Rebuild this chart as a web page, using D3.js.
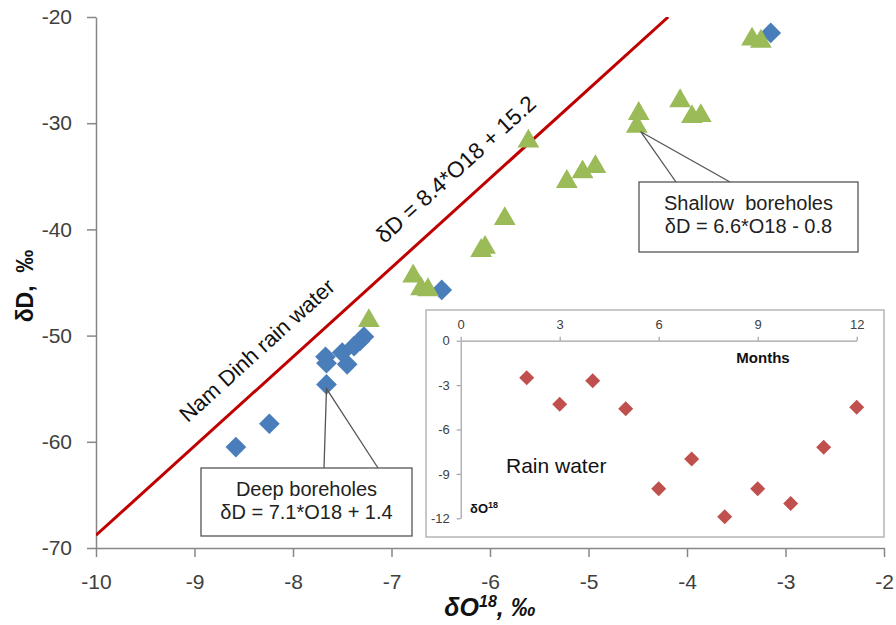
<!DOCTYPE html>
<html>
<head>
<meta charset="utf-8">
<script src="https://cdn.jsdelivr.net/npm/d3@7"></script>
<style>
  body { margin: 0; background: #fff; }
  svg { font-family: Arial, "Liberation Sans", sans-serif; }
</style>
</head>
<body>
<svg id="chart" width="896" height="625"></svg>
<script>
// deep boreholes (blue diamonds)
const deepO = [-8.58, -8.24, -7.66, -7.67, -7.66, -7.50, -7.45, -7.38, -7.32, -7.28, -6.49, -3.15];
const deepD = [-60.5, -58.3, -54.6, -52.0, -52.6, -51.6, -52.7, -51.0, -50.5, -50.1, -45.7, -21.5];

// shallow boreholes (green triangles)
const shallowO = [-7.23, -6.78, -6.70, -6.63, -6.05, -6.09, -5.85, -5.22, -5.06, -4.93, -5.61, -4.49, -4.51, -4.07, -3.95, -3.86, -3.34, -3.25];
const shallowD = [-48.6, -44.4, -45.6, -45.7, -41.7, -42.0, -39.0, -35.5, -34.6, -34.1, -31.7, -29.1, -30.3, -27.9, -29.4, -29.3, -22.1, -22.3];

// inset: monthly rain water dO18
const months = [2, 3, 4, 5, 6, 7, 8, 9, 10, 11, 12];
const rainO = [-2.5, -4.3, -2.7, -4.6, -10.0, -8.0, -11.9, -10.0, -11.0, -7.2, -4.5];

const xTicks = [-10, -9, -8, -7, -6, -5, -4, -3, -2];
const yTicks = [-70, -60, -50, -40, -30, -20];
const monthTicks = [0, 3, 6, 9, 12];
const insetYTicks = [0, -3, -6, -9, -12];

// Nam Dinh meteoric line: dD = 8.4*O18 + 15.2
const lineSlope = 8.4, lineIcept = 15.2;

const svg = d3.select("#chart");
const axisCol = "#878787", textCol = "#404040";
const plain = d => String(d);   // hyphen minus like the original

const x = d3.scaleLinear().domain([-10, -2]).range([96, 884]);
const y = d3.scaleLinear().domain([-70, -20]).range([548, 17]);

svg.append("clipPath").attr("id", "plot")
  .append("rect").attr("x", 96).attr("y", 17).attr("width", 788).attr("height", 531);

// axes
const yAxis = svg.append("g").attr("transform", "translate(96,0)")
  .call(d3.axisLeft(y).tickValues(yTicks).tickFormat(plain).tickSize(9).tickPadding(15).tickSizeOuter(0));
const xAxis = svg.append("g").attr("transform", "translate(0,548)")
  .call(d3.axisBottom(x).tickValues(xTicks).tickFormat(plain).tickSize(9).tickPadding(17).tickSizeOuter(0));
[xAxis, yAxis].forEach(g => {
  g.selectAll("path, line").attr("stroke", axisCol).attr("stroke-width", 1.5);
  g.selectAll("text").attr("font-size", 21).attr("fill", textCol)
    .attr("font-family", "Arial, 'Liberation Sans', sans-serif");
});

// rain water line
const lx0 = -10, lx1 = (-20 - lineIcept) / lineSlope;
svg.append("line")
  .attr("clip-path", "url(#plot)")
  .attr("x1", x(lx0)).attr("y1", y(lineSlope * lx0 + lineIcept))
  .attr("x2", x(lx1)).attr("y2", y(lineSlope * lx1 + lineIcept))
  .attr("stroke", "#c00000").attr("stroke-width", 3);

const ang = Math.atan2(y(-20) - y(-30), x(lx1) - x((-30 - lineIcept) / lineSlope)) * 180 / Math.PI;
svg.append("text").attr("transform", `translate(461,175) rotate(${ang})`)
  .attr("text-anchor", "middle").attr("font-size", 22.5).attr("fill", "#111")
  .text("δD = 8.4*O18 + 15.2");
svg.append("text").attr("transform", `translate(262,356) rotate(${ang})`)
  .attr("text-anchor", "middle").attr("font-size", 22).attr("fill", "#111")
  .text("Nam Dinh rain water");

// points
const diamond = d3.symbol().type(d3.symbolSquare).size(215)();
const tri = d3.symbol().type(d3.symbolTriangle).size(205)();

svg.append("g").selectAll("path")
  .data(deepO.map((o, i) => [o, deepD[i]]))
  .join("path")
  .attr("d", diamond)
  .attr("transform", d => `translate(${x(d[0])},${y(d[1])}) rotate(45)`)
  .attr("fill", "#4a7ebb");

svg.append("g").selectAll("path")
  .data(shallowO.map((o, i) => [o, shallowD[i]]))
  .join("path")
  .attr("d", tri)
  .attr("transform", d => `translate(${x(d[0])},${y(d[1])})`)
  .attr("fill", "#9bbb59");

// callout boxes
function callout(bx, by, bw, bh, tip, a, b, lines) {
  const g = svg.append("g");
  g.append("path")
    .attr("d", `M${a},${by} L${x(tip[0])},${y(tip[1])} L${b},${by}`)
    .attr("fill", "none").attr("stroke", "#555").attr("stroke-width", 1.3);
  g.append("rect").attr("x", bx).attr("y", by).attr("width", bw).attr("height", bh)
    .attr("fill", "#fff").attr("stroke", "#555").attr("stroke-width", 1.3);
  lines.forEach((t, i) => {
    g.append("text").attr("x", bx + bw / 2).attr("y", by + 28 + i * 23)
      .attr("text-anchor", "middle").attr("font-size", 20).attr("fill", "#222")
      .attr("xml:space", "preserve").text(t);
  });
}
callout(639, 182, 219, 70, [-4.47, -30.8], 676, 730, ["Shallow  boreholes", "δD = 6.6*O18 - 0.8"]);
callout(201, 468, 211, 68, [-7.66, -55.0], 324, 378, ["Deep boreholes", "δD = 7.1*O18 + 1.4"]);

// axis titles
svg.append("text").attr("transform", "translate(33,286) rotate(-90)")
  .attr("text-anchor", "middle").attr("font-size", 23).attr("font-weight", "bold")
  .attr("fill", "#111").attr("xml:space", "preserve").text("δD,  ‰");

const xt = svg.append("text").attr("x", 490).attr("y", 616)
  .attr("text-anchor", "middle").attr("font-size", 25).attr("font-weight", "bold")
  .attr("font-style", "italic").attr("fill", "#111");
xt.append("tspan").text("δO");
xt.append("tspan").attr("font-size", 16).attr("dy", -9).text("18");
xt.append("tspan").attr("dy", 9).text(", ‰");

// inset
svg.append("rect").attr("x", 426).attr("y", 310).attr("width", 458).attr("height", 227)
  .attr("fill", "#fff").attr("stroke", "#b5b5b5").attr("stroke-width", 1.5);

const mx = d3.scaleLinear().domain([0, 12]).range([460.7, 856.7]);
const my = d3.scaleLinear().domain([-12, 0]).range([518.3, 340.7]);

const ix = svg.append("g").attr("transform", "translate(0,340.7)")
  .call(d3.axisTop(mx).tickValues(monthTicks).tickFormat(plain).tickSize(4).tickPadding(8).tickSizeOuter(0));
const iy = svg.append("g").attr("transform", "translate(460.7,0)")
  .call(d3.axisLeft(my).tickValues(insetYTicks).tickFormat(plain).tickSize(4).tickPadding(7).tickSizeOuter(0));
[ix, iy].forEach(g => {
  g.selectAll("path, line").attr("stroke", "#a0a0a0").attr("stroke-width", 1.2);
  g.selectAll("text").attr("font-size", 13).attr("fill", textCol)
    .attr("font-family", "Arial, 'Liberation Sans', sans-serif");
});

svg.append("g").selectAll("path")
  .data(months.map((m, i) => [m, rainO[i]]))
  .join("path")
  .attr("d", d3.symbol().type(d3.symbolSquare).size(112)())
  .attr("transform", d => `translate(${mx(d[0])},${my(d[1])}) rotate(45)`)
  .attr("fill", "#c0504d");

svg.append("text").attr("x", 763).attr("y", 363).attr("text-anchor", "middle")
  .attr("font-size", 15).attr("font-weight", "bold").attr("fill", "#111").text("Months");
svg.append("text").attr("x", 506).attr("y", 473).attr("font-size", 21)
  .attr("fill", "#111").text("Rain water");
const il = svg.append("text").attr("x", 470).attr("y", 513).attr("font-size", 13)
  .attr("font-weight", "bold").attr("fill", "#111");
il.append("tspan").text("δO");
il.append("tspan").attr("font-size", 9).attr("dy", -5).text("18");
</script>
</body>
</html>
